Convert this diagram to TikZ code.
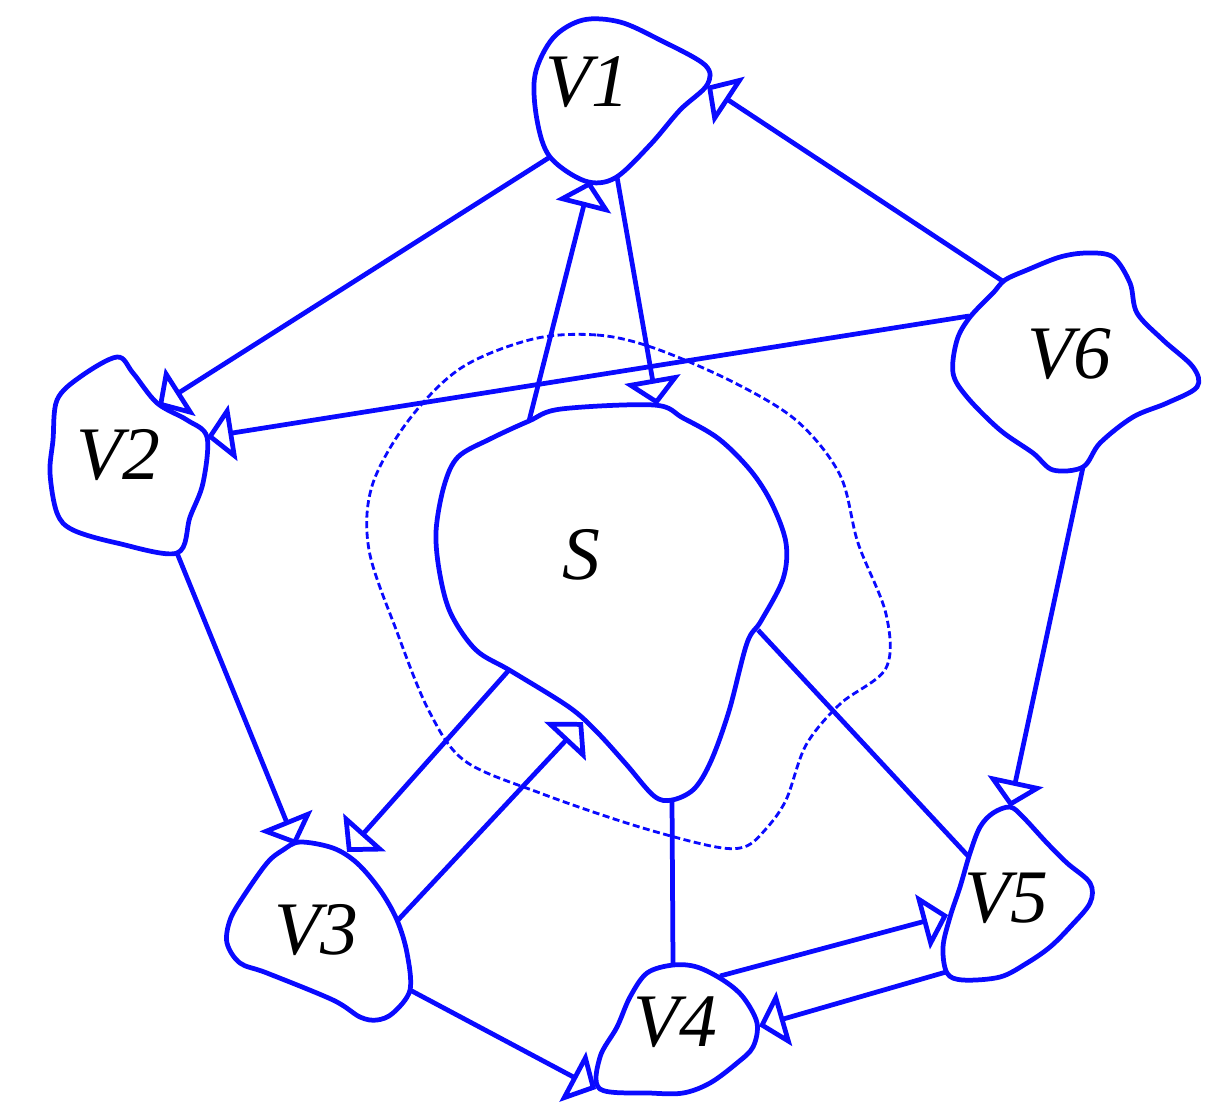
\documentclass[tikz,border=0pt]{standalone}
\usepackage{fontspec}
\setmainfont{Liberation Serif}
\usetikzlibrary{arrows.meta}
\definecolor{vblue}{RGB}{10,10,255}

\begin{document}
\begin{tikzpicture}[
    x=0.01cm, y=-0.01cm,
    blob/.style={draw=vblue, line width=1.35pt, smooth cycle, tension=0.55},
    cut/.style={draw=vblue, line width=0.8pt, dash pattern=on 2pt off 1pt, smooth cycle, tension=0.55},
    label/.style={font=\fontsize{21.5}{24}\selectfont\itshape, inner sep=0pt},
    link/.style={vblue, line width=1.35pt},
    arrow/.style={link, -{Triangle[open, length=7.5pt, width=16pt]}}
]
    \useasboundingbox (0,0) rectangle (1228,1102);

    \draw[blob] plot coordinates {(583,20) (620,22) (660,40) (705,65) (707,85) (680,110) (650,145) (615,178) (585,181) (550,157) (537,120) (535,75) (553,38)};
    \draw[blob] plot coordinates {(117,357) (80,377) (57,400) (53,440) (50,473) (57,513) (73,530) (117,543) (177,553) (190,517) (203,483) (207,437) (187,420) (157,403) (133,373)};
    \draw[blob] plot coordinates {(300,842) (333,848) (357,863) (380,890) (397,920) (407,953) (410,990) (393,1013) (377,1020) (360,1017) (333,1000) (267,973) (240,963) (227,943) (230,920) (243,897) (267,863) (283,850)};
    \draw[blob] plot coordinates {(673,965) (697,967) (723,980) (743,997) (757,1023) (753,1047) (737,1063) (710,1083) (683,1093) (650,1093) (600,1089) (600,1057) (617,1027) (630,997) (647,973)};
    \draw[blob] plot coordinates {(1010,807) (1023,817) (1047,843) (1067,863) (1090,883) (1090,903) (1070,927) (1050,947) (1027,963) (1000,977) (963,980) (947,973) (943,947) (950,917) (960,887) (970,853) (980,827) (993,813)};
    \draw[blob] plot coordinates {(1005,280) (1027,270) (1060,257) (1087,253) (1113,257) (1130,283) (1137,313) (1163,340) (1193,367) (1197,387) (1167,403) (1133,417) (1100,443) (1083,467) (1053,470) (1033,453) (1000,430) (967,397) (953,373) (957,340) (970,317) (993,293)};
    \draw[blob] plot coordinates {(529,421) (561,409) (654,405) (683,418) (719,439) (751,471) (772,504) (786,543) (783,579) (761,621) (747,643) (729,711) (711,761) (694,789) (672,800) (654,796) (626,764) (597,732) (569,707) (511,671) (476,650) (451,614) (440,575) (436,532) (444,486) (458,457) (490,439)};
    \draw[cut] plot coordinates {(533,339) (597,335) (654,348) (733,382) (797,421) (840,475) (858,543) (886,614) (886,668) (840,704) (806,745) (786,800) (765,830) (744,847) (711,846) (633,825) (540,793) (465,761) (429,711) (397,632) (369,550) (372,486) (408,421) (461,368)};

    \node[label] (v1) at (587,82) {V1};
    \node[label] (v2) at (118,455) {V2};
    \node[label] (v3) at (316,930) {V3};
    \node[label] (v4) at (675,1022) {V4};
    \node[label] (v5) at (1006,898) {V5};
    \node[label] (v6) at (1069,354) {V6};
    \node[label] (s) at (581,555) {S};

    \coordinate (v1-sw) at (550,157);
    \coordinate (v1-s) at (590,181);
    \coordinate (v1-se) at (617,177);
    \coordinate (v1-e) at (707,86);
    \coordinate (v2-ne) at (158,406);
    \coordinate (v2-e) at (207,437);
    \coordinate (v2-s) at (177,553);
    \coordinate (v3-n) at (296,845);
    \coordinate (v3-ne) at (347,852);
    \coordinate (v3-e) at (398,920);
    \coordinate (v3-se) at (410,990);
    \coordinate (v4-n) at (673,965);
    \coordinate (v4-ne) at (720,976);
    \coordinate (v4-e) at (759,1026);
    \coordinate (v4-sw) at (596,1089);
    \coordinate (v5-n) at (1010,807);
    \coordinate (v5-nw) at (969,857);
    \coordinate (v5-w) at (948,915);
    \coordinate (v5-sw) at (946,972);
    \coordinate (v6-nw) at (1004,282);
    \coordinate (v6-w) at (969,316);
    \coordinate (v6-s) at (1083,467);
    \coordinate (s-n) at (657,405);
    \coordinate (s-nw) at (529,421);
    \coordinate (s-sw) at (509,670);
    \coordinate (s-ssw) at (583,722);
    \coordinate (s-s) at (672,800);
    \coordinate (s-e) at (758,630);

    \draw[arrow] (v1-sw) -- (v2-ne);
    \draw[arrow] (v1-se) -- (s-n);
    \draw[arrow] (s-nw) -- (v1-s);
    \draw[arrow] (v6-nw) -- (v1-e);
    \draw[arrow] (v6-w) -- (v2-e);
    \draw[arrow] (v2-s) -- (v3-n);
    \draw[arrow] (s-sw) -- (v3-ne);
    \draw[arrow] (v3-e) -- (s-ssw);
    \draw[arrow] (v3-se) -- (v4-sw);
    \draw[arrow] (v6-s) -- (v5-n);
    \draw[arrow] (v4-ne) -- (v5-w);
    \draw[arrow] (v5-sw) -- (v4-e);
    \draw[link] (s-s) -- (v4-n);
    \draw[link] (s-e) -- (v5-nw);
\end{tikzpicture}
\end{document}
